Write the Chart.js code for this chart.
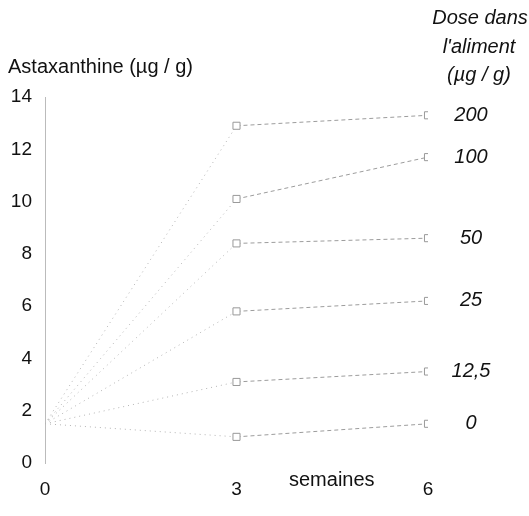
<!DOCTYPE html>
<html>
<head>
<meta charset="utf-8">
<script src="https://cdn.jsdelivr.net/npm/chart.js@4"></script>
<style>
  html, body { margin: 0; padding: 0; background: #fff; }
  #wrap { width: 529px; height: 516px; }
</style>
</head>
<body>
<div id="wrap"><canvas id="myChart"></canvas></div>
<script>
let weeks = [0, 3, 6];
let doses = ['200', '100', '50', '25', '12,5', '0'];
let dose200 = [1.5, 12.9, 13.3];
let dose100 = [1.5, 10.1, 11.7];
let dose50 = [1.5, 8.4, 8.6];
let dose25 = [1.5, 5.8, 6.2];
let dose12 = [1.5, 3.1, 3.5];
let dose0 = [1.5, 1.0, 1.5];
let yTicks = [0, 2, 4, 6, 8, 10, 12, 14];

let series = [dose200, dose100, dose50, dose25, dose12, dose0];
let font = '"Liberation Sans", Arial, sans-serif';

let makeSet = (values, label) => {
  return {
    label: label,
    data: values.map((v, i) => ({ x: weeks[i], y: v })),
    borderColor: '#a0a0a0',
    borderWidth: 1,
    pointStyle: 'rect',
    pointRadius: ctx => ctx.dataIndex === 0 ? 0 : 5,
    pointBackgroundColor: '#fff',
    pointBorderColor: '#999',
    pointBorderWidth: 1,
    segment: {
      borderDash: ctx => ctx.p0DataIndex === 0 ? [1, 4] : [4, 3],
      borderColor: ctx => ctx.p0DataIndex === 0 ? '#b4b4b4' : '#9c9c9c'
    }
  };
};

let texts = {
  id: 'texts',
  afterDraw(chart) {
    let ctx = chart.ctx;
    let ys = chart.scales.y;
    ctx.save();
    ctx.fillStyle = '#111';
    ctx.textBaseline = 'middle';
    ctx.font = '20px ' + font;
    ctx.textAlign = 'left';
    ctx.fillText('Astaxanthine (µg / g)', 8, 67);
    ctx.fillText('semaines', 289, 480);
    ctx.font = 'italic 20px ' + font;
    ctx.textAlign = 'center';
    ctx.fillText('Dose dans', 480, 18);
    ctx.fillText("l'aliment", 479, 47);
    ctx.fillText('(µg / g)', 479, 75);
    chart.data.datasets.forEach((ds, i) => {
      let last = series[i][series[i].length - 1];
      ctx.fillText(ds.label, 471, ys.getPixelForValue(last));
    });
    ctx.restore();
  }
};

let chart = new Chart(document.getElementById('myChart').getContext('2d'), {
  type: 'line',
  data: {
    datasets: series.map((s, i) => makeSet(s, doses[i]))
  },
  options: {
    responsive: true,
    maintainAspectRatio: false,
    animation: false,
    layout: { padding: { top: 97, right: 101, left: 0, bottom: 0 } },
    plugins: {
      legend: { display: false },
      tooltip: { enabled: false }
    },
    scales: {
      x: {
        type: 'linear',
        min: 0,
        max: 6,
        afterBuildTicks: s => { s.ticks = weeks.map(v => ({ value: v })); },
        afterFit: s => { s.height = 53; },
        grid: { display: false },
        border: { display: false },
        ticks: { color: '#111', font: { size: 19, family: font }, padding: 7 }
      },
      y: {
        min: 0,
        max: 14,
        afterBuildTicks: s => { s.ticks = yTicks.map(v => ({ value: v })); },
        afterFit: s => { s.width = 45; },
        grid: { display: false },
        border: { display: true, dash: [4, 12], color: '#bbb' },
        ticks: { color: '#111', font: { size: 19, family: font }, padding: 5 }
      }
    }
  },
  plugins: [texts]
});
</script>
</body>
</html>
